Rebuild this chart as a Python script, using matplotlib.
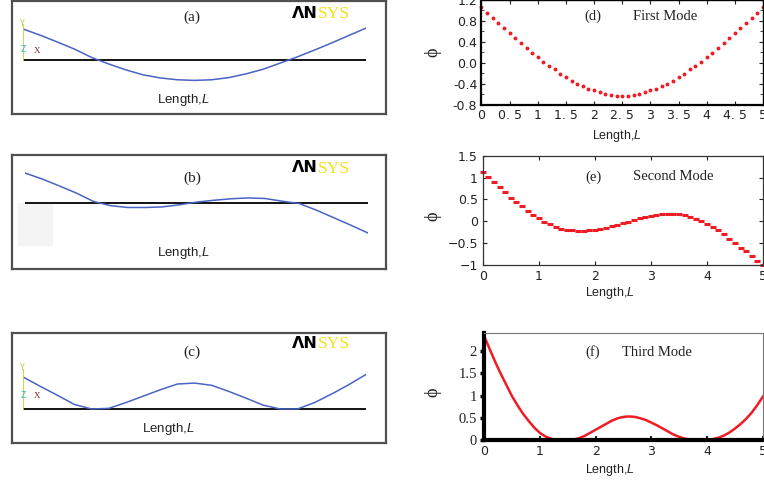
import numpy as np
import matplotlib.pyplot as plt
from matplotlib.patches import Rectangle

plt.rcParams['mathtext.fontset'] = 'custom'
plt.rcParams['mathtext.it'] = 'Liberation Sans:italic'
plt.rcParams['mathtext.rm'] = 'Liberation Sans'

W, H = 764, 484

# ANSYS deflection shapes (left column), sampled every 0.25 along the beam
ansys_x = np.linspace(0, 5, 21)
ansys_a = [1.0, 0.80, 0.58, 0.35, 0.08, -0.13, -0.32, -0.48, -0.58, -0.64, -0.66,
           -0.64, -0.57, -0.45, -0.30, -0.10, 0.10, 0.32, 0.55, 0.79, 1.03]
ansys_b = [1.0, 0.80, 0.57, 0.33, 0.05, -0.09, -0.15, -0.15, -0.13, -0.06, 0.03,
           0.09, 0.14, 0.17, 0.15, 0.06, -0.02, -0.24, -0.49, -0.74, -1.0]
ansys_c = [1.0, 0.71, 0.43, 0.14, 0.0, 0.02, 0.20, 0.40, 0.60, 0.78, 0.81,
           0.74, 0.55, 0.34, 0.12, 0.0, 0.0, 0.20, 0.47, 0.76, 1.08]

# computed mode shapes (right column), sampled every 0.1
length = np.linspace(0, 5, 51)
first_mode = [1.06, 0.96, 0.86, 0.76, 0.66, 0.56, 0.47, 0.37, 0.28, 0.19, 0.10,
              0.01, -0.06, -0.13, -0.21, -0.28, -0.35, -0.40, -0.45, -0.50, -0.53,
              -0.56, -0.60, -0.62, -0.63, -0.63, -0.63, -0.62, -0.60, -0.56, -0.53,
              -0.50, -0.45, -0.40, -0.35, -0.28, -0.21, -0.13, -0.06, 0.01, 0.10,
              0.19, 0.28, 0.37, 0.47, 0.56, 0.66, 0.76, 0.86, 0.96, 1.06]
second_mode = [1.12, 1.02, 0.89, 0.78, 0.66, 0.54, 0.44, 0.34, 0.24, 0.15, 0.07,
               -0.01, -0.07, -0.13, -0.17, -0.20, -0.21, -0.22, -0.22, -0.21, -0.20,
               -0.18, -0.145, -0.11, -0.08, -0.04, -0.01, 0.03, 0.07, 0.10, 0.13,
               0.15, 0.17, 0.175, 0.175, 0.16, 0.14, 0.09, 0.05, 0.0, -0.06,
               -0.13, -0.21, -0.30, -0.40, -0.49, -0.60, -0.69, -0.80, -0.90, -1.0]
third_mode = [2.35, 2.05, 1.76, 1.49, 1.24, 0.99, 0.78, 0.59, 0.43, 0.28, 0.16,
              0.08, 0.03, 0.0, 0.0, 0.0, 0.01, 0.04, 0.09, 0.16, 0.23,
              0.30, 0.37, 0.44, 0.49, 0.52, 0.53, 0.52, 0.49, 0.45, 0.39,
              0.33, 0.26, 0.19, 0.12, 0.07, 0.03, 0.01, 0.0, 0.0, 0.0,
              0.02, 0.05, 0.10, 0.17, 0.26, 0.36, 0.48, 0.62, 0.79, 0.98]

d_ticks = [0, 0.5, 1, 1.5, 2, 2.5, 3, 3.5, 4, 4.5, 5]
d_ticklabels = ['0', '0. 5', '1', '1. 5', '2', '2. 5', '3', '3. 5', '4', '4. 5', '5']


def rect(l, t, r, b):
    return [l / W, 1 - b / H, (r - l) / W, (b - t) / H]


def ftext(x, y, s, **kw):
    kw.setdefault('ha', 'center')
    kw.setdefault('va', 'center')
    fig.text(x / W, 1 - y / H, s, **kw)


fig = plt.figure(figsize=(7.64, 4.84), dpi=100)
fig.patch.set_facecolor('white')

# faint grey patch in panel (b)
fig.add_artist(Rectangle((18 / W, 1 - 245 / H), 34 / W, 42 / H, transform=fig.transFigure,
                         color='#f4f4f4', zorder=-1))

# ---- left column: ANSYS screenshots ----
boxes = [(12, 1, 386, 114), (12, 155, 386, 269), (12, 333, 386, 443)]
inner = [((23, 20, 366, 90), (-0.97, 1.29)),
         ((25, 165, 368, 241), (-1.267, 1.267)),
         ((23, 365, 366, 420), (-0.344, 1.375))]
triad = [(0.43, 0.93), None, (0.2, 0.91)]
shapes = [ansys_a, ansys_b, ansys_c]
tags = ['(a)', '(b)', '(c)']
tag_y = [17, 178, 352]
logo_y = [13, 168, 343]
len_pos = [(183, 100), (183, 253), (168, 429)]

for i in range(3):
    box = fig.add_axes(rect(*boxes[i]))
    box.set_facecolor('none')
    box.set_xticks([])
    box.set_yticks([])
    for s in box.spines.values():
        s.set_color('#505050')
        s.set_linewidth(1.6)

    ax = fig.add_axes(rect(*inner[i][0]))
    ax.set_facecolor('none')
    ax.axis('off')
    ax.set_xlim(0, 5)
    ax.set_ylim(*inner[i][1])
    ax.axhline(0, color='black', lw=1.3)
    ax.plot(ansys_x, shapes[i], color='#4a63c4', lw=1.1)
    if triad[i]:
        ax.axvline(0, ymin=triad[i][0], ymax=triad[i][1], color='#c6d63a', lw=1.3)

    ftext(192, tag_y[i], tags[i], family='Liberation Serif', fontsize=11, color='#222222')
    ftext(318, logo_y[i], 'ΛN', ha='right', family='DejaVu Sans', fontweight='bold',
          fontsize=11.5, color='black')
    ftext(318, logo_y[i] + 1, 'SYS', ha='left', family='Liberation Serif',
          fontsize=12.5, color='#f0e21c')
    ftext(len_pos[i][0], len_pos[i][1], 'Length,$L$', family='Liberation Sans',
          fontsize=9.5, color='#222222')

for y0 in (0, 345):
    ftext(22, 23 + y0, 'Y', fontsize=5.5, color='#b8c830', family='DejaVu Sans')
    ftext(23, 50 + y0, 'Z', fontsize=5.5, color='#30b8c8', family='DejaVu Sans')
    ftext(37, 51 + y0, 'X', fontsize=6.5, color='#7a2a2a', family='Liberation Serif')

red = '#ee1c24'


def phi_label(y):
    ftext(433, y, 'ϕ', rotation=90, family=['Liberation Serif', 'DejaVu Serif'],
          fontsize=13, color='#222222')


# ---- (d) first mode ----
axd = fig.add_axes(rect(481.5, 0, 763, 104.5))
axd.plot(length, first_mode, ls='none', marker='o', ms=2.8, mec='none', color=red,
         clip_on=False)
axd.set_xlim(0, 5)
axd.set_ylim(-0.8, 1.2)
axd.set_xticks(d_ticks)
axd.set_xticklabels(d_ticklabels)
axd.set_yticks([-0.8, -0.4, 0.0, 0.4, 0.8, 1.2])
axd.set_yticklabels(['-0.8', '-0.4', '0.0', '0.4', '0.8', '1.2'])
axd.set_yticks(np.linspace(-0.8, 1.2, 11), minor=True)
axd.tick_params(which='both', direction='in', top=True, right=True, length=3,
                labelsize=9, pad=3, colors='#222222')
axd.tick_params(which='minor', length=2)
for s in ['left', 'bottom']:
    axd.spines[s].set_linewidth(1.6)
for s in ['top', 'right']:
    axd.spines[s].set_linewidth(1.0)
ftext(593, 16, '(d)', family='Liberation Serif', fontsize=10.5, color='#222222')
ftext(665, 16, 'First Mode', family='Liberation Serif', fontsize=10.5, color='#222222')
ftext(617, 136, 'Length,$L$', family='Liberation Sans', fontsize=9, color='#222222')
phi_label(52)

# ---- (e) second mode ----
axe = fig.add_axes(rect(482.7, 155.7, 763, 265))
axe.plot(length, second_mode, ls='none', marker='_', ms=4, mew=2.2, color=red,
         clip_on=False)
axe.set_xlim(0, 5)
axe.set_ylim(-1, 1.5)
axe.set_xticks([0, 1, 2, 3, 4, 5])
axe.set_yticks([-1, -0.5, 0, 0.5, 1, 1.5])
axe.set_yticklabels(['\u22121', '\u22120.5', '0', '0.5', '1', '1.5'])
axe.tick_params(direction='in', top=True, right=True, length=3, labelsize=9,
                colors='#222222')
for s in axe.spines.values():
    s.set_linewidth(0.9)
    s.set_color('#333333')
ftext(593, 177, '(e)', family='Liberation Serif', fontsize=10.5, color='#222222')
ftext(673, 177, 'Second Mode', family='Liberation Serif', fontsize=10.5, color='#222222')
ftext(610, 293, 'Length,$L$', family='Liberation Sans', fontsize=9, color='#222222')
phi_label(216)

# ---- (f) third mode ----
axf = fig.add_axes(rect(484, 333.3, 763, 440))
axf.plot(length, third_mode, color=red, lw=1.8, clip_on=False)
axf.set_xlim(0, 5)
axf.set_ylim(0, 2.4)
axf.set_xticks([0, 1, 2, 3, 4, 5])
axf.set_yticks([0, 0.5, 1, 1.5, 2])
axf.set_yticklabels(['0', '0.5', '1', '1.5', '2'], family='Liberation Serif', fontsize=10.5)
axf.tick_params(axis='x', direction='in', length=3, width=1.5, labelsize=9,
                colors='#222222')
axf.tick_params(axis='y', direction='out', length=3, width=2.5, colors='black',
                labelcolor='#222222', pad=2)
axf.spines['left'].set_linewidth(3)
axf.spines['bottom'].set_linewidth(3)
for s in ['top', 'right']:
    axf.spines[s].set_linewidth(0.8)
    axf.spines[s].set_color('#777777')
ftext(593, 352, '(f)', family='Liberation Serif', fontsize=10.5, color='#222222')
ftext(657, 352, 'Third Mode', family='Liberation Serif', fontsize=10.5, color='#222222')
ftext(610, 470, 'Length,$L$', family='Liberation Sans', fontsize=9, color='#222222')
phi_label(392)

fig.savefig('out.png', dpi=100)
